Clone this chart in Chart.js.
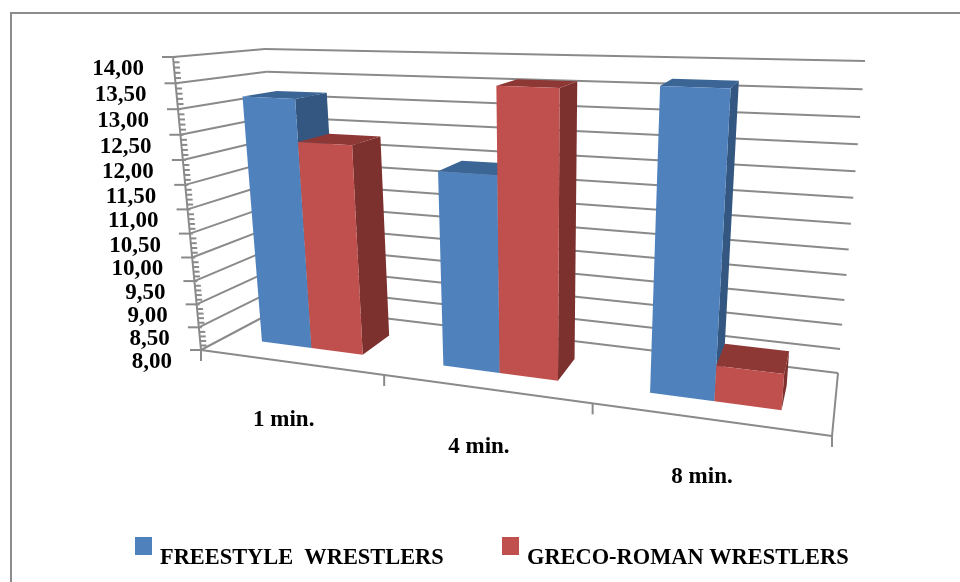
<!DOCTYPE html>
<html>
<head>
<meta charset="utf-8">
<style>
  html, body { margin: 0; padding: 0; background: #fff; }
  canvas { display: block; }
</style>
<script src="https://cdn.jsdelivr.net/npm/chart.js@4/dist/chart.umd.min.js"></script>
</head>
<body>
<canvas id="wrestlers" width="960" height="582"></canvas>
<script>
const categories = ["1 min.", "4 min.", "8 min."];
const freestyle = [13.2, 11.95, 13.7];
const grecoRoman = [12.35, 13.6, 8.7];

const blue = { front: "#4F81BD", side: "#335780", top: "#3B6594" };
const red = { front: "#C0504D", side: "#7D312F", top: "#8E3836" };
const gridColor = "#8a8a8a";
const labelFont = "bold 23px 'Liberation Serif'";
const legendFont = "bold 22.4px 'Liberation Serif'";

// corners of the 3d box on screen: bottom left, bottom right, top right, top left
const frontPlane = [[201, 350], [832, 436], [863, 80], [173, 57]];
const backPlane = [[284, 306], [838, 373], [865, 61], [265, 49]];
const barFront = 0.3;
const barBack = 0.7;

function homography(q) {
    const [x0, y0] = q[0], [x1, y1] = q[1], [x2, y2] = q[2], [x3, y3] = q[3];
    const dx1 = x1 - x2, dx2 = x3 - x2, sx = x0 - x1 + x2 - x3;
    const dy1 = y1 - y2, dy2 = y3 - y2, sy = y0 - y1 + y2 - y3;
    const den = dx1 * dy2 - dx2 * dy1;
    const g = (sx * dy2 - dx2 * sy) / den;
    const h = (dx1 * sy - sx * dy1) / den;
    const a = x1 - x0 + g * x1, b = x3 - x0 + h * x3;
    const d = y1 - y0 + g * y1, e = y3 - y0 + h * y3;
    return (u, v) => {
        const k = g * u + h * v + 1;
        return [(a * u + b * v + x0) / k, (d * u + e * v + y0) / k];
    };
}
const frontMap = homography(frontPlane);
const backMap = homography(backPlane);

// u, v are 0..1 along the category and value axes, w is the depth
function project(u, v, w) {
    const f = frontMap(u, v), b = backMap(u, v);
    return [f[0] + (b[0] - f[0]) * w, f[1] + (b[1] - f[1]) * w];
}

function poly(ctx, pts, color) {
    ctx.fillStyle = color;
    ctx.beginPath();
    pts.forEach((p, i) => i ? ctx.lineTo(p[0], p[1]) : ctx.moveTo(p[0], p[1]));
    ctx.closePath();
    ctx.fill();
}

function line(ctx, a, b) {
    ctx.beginPath();
    ctx.moveTo(a[0], a[1]);
    ctx.lineTo(b[0], b[1]);
    ctx.stroke();
}

const box3d = {
    id: "box3d",
    beforeDatasetsDraw(chart) {
        const ctx = chart.ctx;
        const yScale = chart.scales.y, xScale = chart.scales.x;
        const vOf = val => (chart.chartArea.bottom - yScale.getPixelForValue(val)) / chart.chartArea.height;
        ctx.save();

        // outer frame, only top and left are in the picture
        ctx.strokeStyle = "#8c8c8c";
        ctx.lineWidth = 2;
        ctx.beginPath();
        ctx.moveTo(11, 582);
        ctx.lineTo(11, 13);
        ctx.lineTo(960, 13);
        ctx.stroke();

        ctx.strokeStyle = gridColor;
        ctx.lineWidth = 2;

        // gridlines on the left wall and the back wall
        yScale.ticks.forEach(t => {
            const v = vOf(t.value);
            line(ctx, project(0, v, 0), project(0, v, 1));
            line(ctx, project(0, v, 1), project(1, v, 1));
        });

        // floor
        line(ctx, project(0, 0, 0), project(1, 0, 0));
        line(ctx, project(1, 0, 0), project(1, 0, 1));

        // value axis with major and minor ticks
        line(ctx, project(0, 0, 0), project(0, 1, 0));
        ctx.textAlign = "right";
        ctx.textBaseline = "middle";
        ctx.font = labelFont;
        ctx.fillStyle = "#000";
        yScale.ticks.forEach((t, i) => {
            const p = project(0, vOf(t.value), 0);
            line(ctx, [p[0] - 11, p[1]], [p[0] + 3, p[1]]);
            ctx.fillText(t.label, p[0] - 29, p[1] + 12);
            if (i < yScale.ticks.length - 1) {
                for (let m = 1; m < 5; m++) {
                    const q = project(0, vOf(t.value + m * 0.1), 0);
                    line(ctx, q, [q[0] + 6, q[1]]);
                }
            }
        });

        // category ticks and labels
        const area = chart.chartArea;
        const n = categories.length;
        for (let i = 0; i <= n; i++) {
            const p = project(i / n, 0, 0);
            line(ctx, p, [p[0], p[1] + 11]);
        }
        ctx.textAlign = "center";
        categories.forEach((c, i) => {
            const u = (xScale.getPixelForValue(i) - area.left) / area.width;
            const p = project(u, 0, 0);
            ctx.fillText(c, p[0] - 6, p[1] + 58);
        });

        // legend
        ctx.textAlign = "left";
        ctx.font = legendFont;
        const legendSpots = [[135, 160], [502, 527]];
        chart.data.datasets.forEach((ds, i) => {
            ctx.fillStyle = ds.faces.front;
            ctx.fillRect(legendSpots[i][0], 537, 17, 18);
            ctx.fillStyle = "#000";
            ctx.fillText(ds.label, legendSpots[i][1], 558);
        });
        ctx.restore();
    },
    // the flat bars are replaced by the box faces below
    beforeDatasetDraw() {
        return false;
    },
    afterDatasetsDraw(chart) {
        const ctx = chart.ctx;
        const area = chart.chartArea;
        const yScale = chart.scales.y;
        const v0 = (area.bottom - yScale.getPixelForValue(yScale.min)) / area.height;
        chart.data.datasets.forEach((ds, d) => {
            chart.getDatasetMeta(d).data.forEach(bar => {
                const u0 = (bar.x - bar.width / 2 - area.left) / area.width;
                const u1 = (bar.x + bar.width / 2 - area.left) / area.width;
                const v1 = (area.bottom - bar.y) / area.height;
                const a = project;
                poly(ctx, [a(u1, v0, barFront), a(u1, v0, barBack), a(u1, v1, barBack), a(u1, v1, barFront)], ds.faces.side);
                poly(ctx, [a(u0, v1, barFront), a(u1, v1, barFront), a(u1, v1, barBack), a(u0, v1, barBack)], ds.faces.top);
                poly(ctx, [a(u0, v0, barFront), a(u1, v0, barFront), a(u1, v1, barFront), a(u0, v1, barFront)], ds.faces.front);
            });
        });
    }
};

new Chart(document.getElementById("wrestlers").getContext("2d"), {
    type: "bar",
    data: {
        labels: categories,
        datasets: [
            { label: "FREESTYLE  WRESTLERS", data: freestyle, backgroundColor: blue.front, faces: blue },
            { label: "GRECO-ROMAN WRESTLERS", data: grecoRoman, backgroundColor: red.front, faces: red }
        ]
    },
    options: {
        responsive: false,
        animation: false,
        layout: { padding: 0 },
        categoryPercentage: 0.571,
        barPercentage: 1,
        plugins: { legend: { display: false }, tooltip: { enabled: false } },
        scales: {
            x: { display: false },
            y: {
                display: false,
                min: 8,
                max: 14,
                ticks: { stepSize: 0.5, callback: v => v.toFixed(2).replace(".", ",") }
            }
        }
    },
    plugins: [box3d]
});
</script>
</body>
</html>
